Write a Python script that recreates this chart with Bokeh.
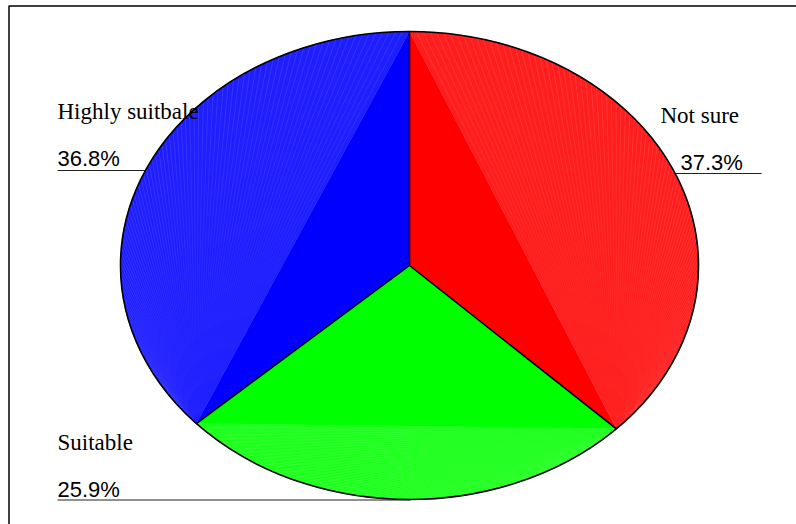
import numpy as np
from bokeh.plotting import figure
from bokeh.models import Range1d, ColumnDataSource
from bokeh.core.properties import value
from bokeh.embed import file_html
from bokeh.resources import INLINE

# --- data -------------------------------------------------------------
categories = ["Not sure", "Suitable", "Highly suitbale"]
shares = [37.3, 25.9, 36.8]                 # percent, clockwise from 12 o'clock
share_labels = ["37.3%", "25.9%", "36.8%"]
colors = ["#ff0000", "#00ff00", "#0000ff"]
rim_colors = ["#ff1e1e", "#1eff1e", "#1e1eff"]   # slightly lighter outer segments

# --- layout (pixel-like data space, y grows downwards) ----------------
W, H = 796, 524
CX, CY, RX, RY = 409, 265, 289, 234          # elliptical pie
name_pos = {"Not sure": (660, 115), "Suitable": (57, 442), "Highly suitbale": (57, 111)}
pct_pos = {"Not sure": (680, 162), "Suitable": (57, 489), "Highly suitbale": (57, 158)}
leader = {"Not sure": (650, 761, 173), "Suitable": (57, 410, 499.5), "Highly suitbale": (57, 170, 170)}

# streak shading: pieces along each streak whose opacity rises towards the rim
STREAK_EDGES = np.linspace(0.03, 1.0, 13)
STREAK_MAX_ALPHA = 0.15


def pt(theta):
    """Point on the ellipse for a parametric angle measured clockwise from top."""
    return CX + RX * np.sin(theta), CY - RY * np.cos(theta)


p = figure(width=W, height=H, output_backend="svg", toolbar_location=None,
           x_range=Range1d(0, W), y_range=Range1d(H, 0),
           min_border=0, min_border_left=0, min_border_right=0,
           min_border_top=0, min_border_bottom=0)
p.axis.visible = False
p.grid.visible = False
p.outline_line_color = None
p.background_fill_color = "white"
p.border_fill_color = "white"

# frame on the top and left
p.line(x=[8.5, 8.5, W], y=[H, 5.5, 5.5], line_color="black", line_width=1.5)

# leader lines under the labels (drawn before the pie so it covers their ends)
for name in categories:
    x0, x1, y = leader[name]
    p.line(x=[x0, x1], y=[y, y], line_color="#222222", line_width=1.2)

# --- slices -----------------------------------------------------------
fractions = np.array(shares) / sum(shares)
bounds = np.concatenate([[0.0], np.cumsum(fractions)]) * 2 * np.pi

solid_xs, solid_ys, solid_c = [], [], []
seg_xs, seg_ys, seg_c = [], [], []
st = dict(x0=[], y0=[], x1=[], y1=[], a=[])
for i, col in enumerate(colors):
    t0, t1 = bounds[i], bounds[i + 1]
    x0, y0 = pt(t0)
    x1, y1 = pt(t1)
    # inner triangle: centre + the two rim points
    solid_xs.append([CX, x0, x1])
    solid_ys.append([CY, y0, y1])
    solid_c.append(col)
    # outer segment between the chord and the rim
    th = np.linspace(t0, t1, 200)
    ax, ay = pt(th)
    seg_xs.append(list(ax))
    seg_ys.append(list(ay))
    seg_c.append(rim_colors[i])
    # faint streaks fanning out from the lower chord end, fading towards it
    apex = np.array((x1, y1) if y1 >= y0 else (x0, y0))
    n = max(8, int(np.degrees(t1 - t0) * 0.75))
    sx, sy = pt(np.linspace(t0, t1, n + 1)[1:-1])
    for f0, f1 in zip(STREAK_EDGES[:-1], STREAK_EDGES[1:]):
        st["x0"] += list(apex[0] + f0 * (sx - apex[0]))
        st["y0"] += list(apex[1] + f0 * (sy - apex[1]))
        st["x1"] += list(apex[0] + f1 * (sx - apex[0]))
        st["y1"] += list(apex[1] + f1 * (sy - apex[1]))
        st["a"] += [STREAK_MAX_ALPHA * f1] * len(sx)

p.patches(xs="xs", ys="ys", fill_color="c", line_color="c", line_width=0.5,
          source=ColumnDataSource(dict(xs=solid_xs, ys=solid_ys, c=solid_c)))
p.patches(xs="xs", ys="ys", fill_color="c", line_color="c", line_width=0.5,
          source=ColumnDataSource(dict(xs=seg_xs, ys=seg_ys, c=seg_c)))
p.segment(x0="x0", y0="y0", x1="x1", y1="y1", line_color="white",
          line_alpha="a", line_width=0.7, source=ColumnDataSource(st))

# slice borders and rim
bx, by = pt(bounds[:-1])
p.segment(x0=[CX] * len(bx), y0=[CY] * len(by), x1=bx, y1=by,
          line_color="black", line_width=1.5)
p.ellipse(x=[CX], y=[CY], width=[2 * RX], height=[2 * RY],
          fill_color=None, line_color="black", line_width=1.6)

# --- labels -----------------------------------------------------------
p.text(x=[name_pos[c][0] for c in categories], y=[name_pos[c][1] for c in categories],
       text=categories, text_font=value("Liberation Serif"), text_font_size="23px",
       text_color="black", text_baseline="alphabetic", text_align="left")
p.text(x=[pct_pos[c][0] for c in categories], y=[pct_pos[c][1] for c in categories],
       text=share_labels, text_font=value("Liberation Sans"), text_font_size="22px",
       text_color="black", text_baseline="alphabetic", text_align="left")

open("out.html", "w").write(file_html(p, INLINE))
